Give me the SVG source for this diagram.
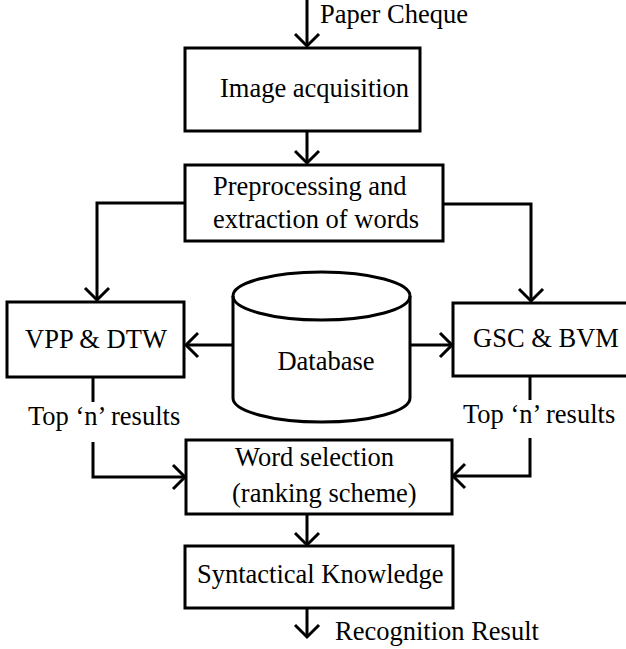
<svg xmlns="http://www.w3.org/2000/svg" width="626" height="649" viewBox="0 0 626 649">
<style>
.box{fill:#fff;stroke:#000;stroke-width:3}
.ln{fill:none;stroke:#000;stroke-width:3}
.ah{fill:none;stroke:#000;stroke-width:3;stroke-linejoin:miter}
text{font-family:"Liberation Serif","Times New Roman",serif;font-size:26.5px;fill:#000}
.c{text-anchor:middle}
</style>
<rect width="626" height="649" fill="#fff"/>
<g id="connectors">
<line class="ln" x1="307" y1="0" x2="307" y2="46"/>
<polyline class="ah" points="295,34 307,46 319,34"/>
<line class="ln" x1="307" y1="131" x2="307" y2="163"/>
<polyline class="ah" points="295,151 307,163 319,151"/>
<polyline class="ln" points="185,203 97,203 97,300"/>
<polyline class="ah" points="85,288 97,300 109,288"/>
<polyline class="ln" points="443,204 531,204 531,301"/>
<polyline class="ah" points="519,289 531,301 543,289"/>
<line class="ln" x1="233" y1="345" x2="186" y2="345"/>
<polyline class="ah" points="198,333 186,345 198,357"/>
<line class="ln" x1="410" y1="345" x2="452" y2="345"/>
<polyline class="ah" points="440,333 452,345 440,357"/>
<line class="ln" x1="93" y1="377" x2="93" y2="402"/>
<polyline class="ln" points="93,442 93,477 185,477"/>
<polyline class="ah" points="173,465 185,477 173,489"/>
<line class="ln" x1="530" y1="376" x2="530" y2="400"/>
<polyline class="ln" points="530,438 530,476 453,476"/>
<polyline class="ah" points="465,464 453,476 465,488"/>
<line class="ln" x1="307" y1="514" x2="307" y2="545"/>
<polyline class="ah" points="295,533 307,545 319,533"/>
<line class="ln" x1="307" y1="608" x2="307" y2="637"/>
<polyline class="ah" points="295,625 307,637 319,625"/>
</g>
<text x="320" y="23">Paper Cheque</text>
<g id="image-acquisition">
<rect class="box" x="185" y="48" width="235" height="83"/>
<text x="220" y="97">Image acquisition</text>
</g>
<g id="preprocessing">
<rect class="box" x="185" y="165" width="258" height="76"/>
<text x="213" y="195">Preprocessing and</text>
<text x="213" y="228">extraction of words</text>
</g>
<g id="vpp-dtw">
<rect class="box" x="7" y="302" width="177" height="75"/>
<text class="c" x="96" y="348">VPP &amp; DTW</text>
</g>
<g id="gsc-bvm">
<rect class="box" x="453" y="303" width="180" height="73"/>
<text class="c" x="546" y="347">GSC &amp; BVM</text>
</g>
<g id="database">
<path class="box" d="M233,296 L233,398 A88.5,24 0 0 0 410,398 L410,296 A88.5,24 0 0 0 233,296 Z"/>
<path class="ln" d="M233,296 A88.5,24 0 0 0 410,296"/>
<text class="c" x="326" y="370">Database</text>
</g>
<text x="28" y="425">Top ‘n’ results</text>
<text x="463" y="423">Top ‘n’ results</text>
<g id="word-selection">
<rect class="box" x="186" y="440" width="266" height="74"/>
<text x="235" y="466">Word selection</text>
<text x="232" y="502">(ranking scheme)</text>
</g>
<g id="syntactical-knowledge">
<rect class="box" x="185" y="546" width="268" height="62"/>
<text x="197" y="583">Syntactical Knowledge</text>
</g>
<text x="335" y="640">Recognition Result</text>
</svg>
